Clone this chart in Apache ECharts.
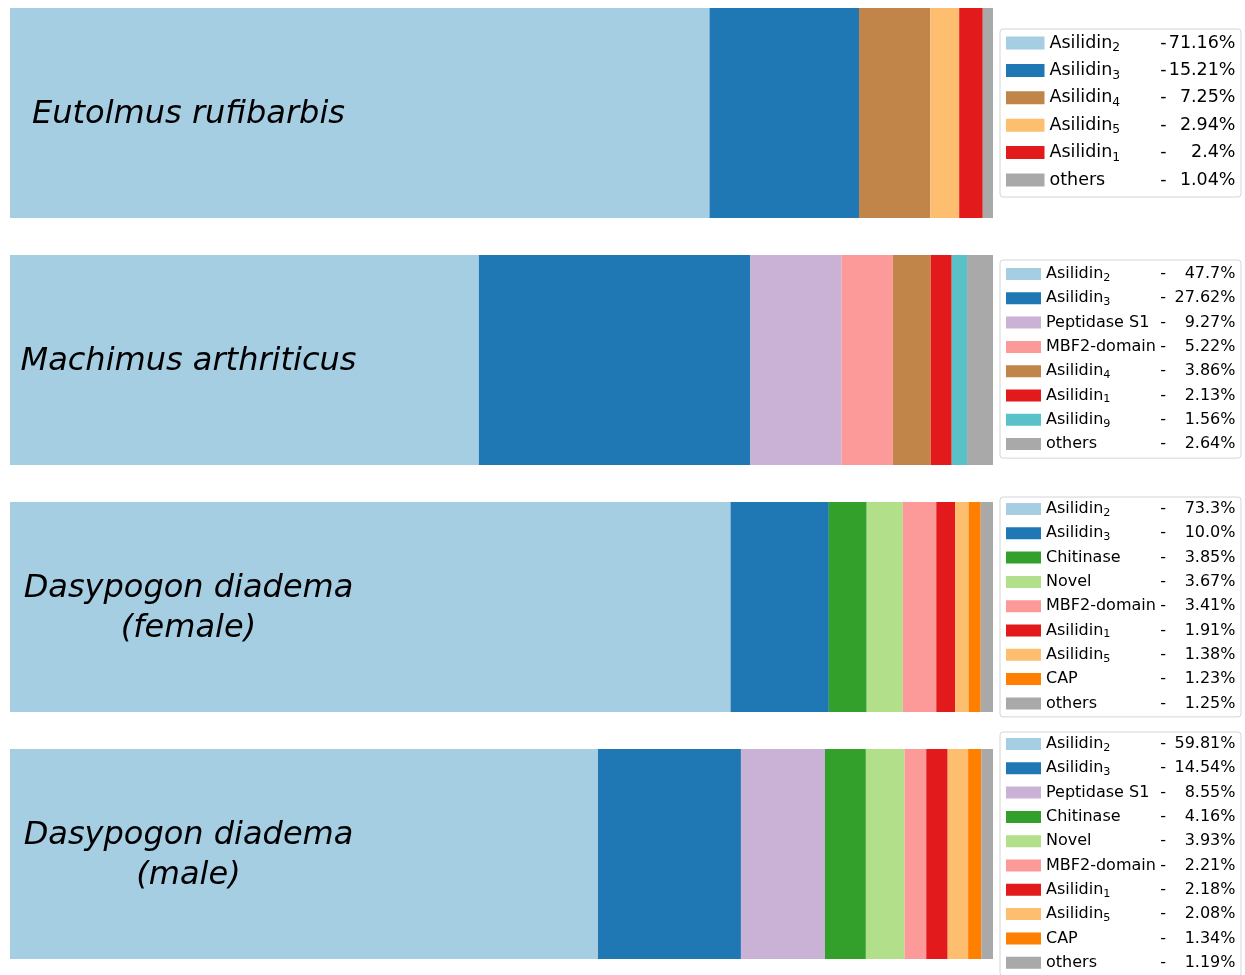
<!DOCTYPE html>
<html>
<head>
<meta charset="utf-8">
<script src="https://cdn.jsdelivr.net/npm/echarts@6/dist/echarts.min.js"></script>
<style>
html,body{margin:0;padding:0;background:#fff;}
#main{width:1245px;height:975px;}
</style>
</head>
<body>
<div id="main"></div>
<script>
// ---- data ----
const species = [
  "Eutolmus rufibarbis",
  "Machimus arthriticus",
  "Dasypogon diadema\n(female)",
  "Dasypogon diadema\n(male)"
];
// "_n" marks a subscript digit
const labels1 = ["Asilidin_2", "Asilidin_3", "Asilidin_4", "Asilidin_5", "Asilidin_1", "others"];
const values1 = [71.16, 15.21, 7.25, 2.94, 2.4, 1.04];
const labels2 = ["Asilidin_2", "Asilidin_3", "Peptidase S1", "MBF2-domain", "Asilidin_4", "Asilidin_1", "Asilidin_9", "others"];
const values2 = [47.7, 27.62, 9.27, 5.22, 3.86, 2.13, 1.56, 2.64];
const labels3 = ["Asilidin_2", "Asilidin_3", "Chitinase", "Novel", "MBF2-domain", "Asilidin_1", "Asilidin_5", "CAP", "others"];
const values3 = [73.3, 10.0, 3.85, 3.67, 3.41, 1.91, 1.38, 1.23, 1.25];
const labels4 = ["Asilidin_2", "Asilidin_3", "Peptidase S1", "Chitinase", "Novel", "MBF2-domain", "Asilidin_1", "Asilidin_5", "CAP", "others"];
const values4 = [59.81, 14.54, 8.55, 4.16, 3.93, 2.21, 2.18, 2.08, 1.34, 1.19];

const colorMap = {
  "Asilidin_2": "#a6cee3",
  "Asilidin_3": "#1f78b4",
  "Asilidin_4": "#c1854a",
  "Asilidin_5": "#fdbf6f",
  "Asilidin_1": "#e31a1c",
  "Asilidin_9": "#5bc1c8",
  "Peptidase S1": "#cab2d6",
  "MBF2-domain": "#fb9a99",
  "Chitinase": "#33a02c",
  "Novel": "#b2df8a",
  "CAP": "#ff7f00",
  "others": "#a9a9a9"
};

const groups = [
  {labels: labels1, values: values1},
  {labels: labels2, values: values2},
  {labels: labels3, values: values3},
  {labels: labels4, values: values4}
];

// ---- layout ----
const gridTops = [8, 255, 502, 749];
const gridH = 210;
const legendTops = [29, 260, 497, 732];

function fmtVal(v) {
  return (Number.isInteger(v) ? v.toFixed(1) : String(v)) + '%';
}

const grids = [], xAxes = [], yAxes = [], series = [], legends = [], graphics = [];
groups.forEach((g, gi) => {
  grids.push({left: 10, width: 983, top: gridTops[gi], height: gridH});
  const total = g.values.reduce((a, b) => a + b, 0);
  xAxes.push({type: 'value', gridIndex: gi, min: 0, max: total, show: false});
  yAxes.push({type: 'category', gridIndex: gi, data: [species[gi]], show: false});
  const names = [];
  g.labels.forEach((lab, li) => {
    const nm = gi + ':' + lab;
    names.push(nm);
    series.push({
      type: 'bar', name: nm, xAxisIndex: gi, yAxisIndex: gi, stack: 's' + gi,
      barCategoryGap: '0%', data: [g.values[li]],
      itemStyle: {color: colorMap[lab]}, silent: true
    });
  });
  const big = gi === 0;
  const fs = big ? 17.5 : 16;
  const lh = big ? 22 : 19;
  const gap = big ? 5.4 : 5.3;
  const dashW = big ? 6.5 : 6;
  const valW = big ? 69 : 69.5;
  const totalW = big ? 186 : 189.5;
  const subFs = Math.round(fs * 0.7 * 10) / 10;
  const subH = lh - 0.838 * fs;
  const ff = 'DejaVu Sans';
  const n = g.labels.length;
  legends.push({
    type: 'plain',
    orient: 'vertical', left: 1000, top: legendTops[gi],
    height: n * lh + (n - 1) * gap + 2,
    data: names, selectedMode: false, icon: 'rect',
    itemWidth: big ? 38.5 : 35, itemHeight: big ? 13 : 12,
    itemGap: gap,
    padding: big ? [3, 5.5, 6, 6] : (gi === 1 ? [4.5, 5.5, 4.5, 6] : [2.5, 5.5, 4, 6]),
    borderColor: '#d4d4d4', borderWidth: 1, borderRadius: 3,
    backgroundColor: '#ffffff',
    textStyle: {
      color: '#000', fontFamily: ff, fontSize: fs, lineHeight: lh, width: totalW,
      rich: {
        n: {fontSize: fs, lineHeight: lh, fontFamily: ff, color: '#000'},
        s: {fontSize: subFs, lineHeight: subH, verticalAlign: 'bottom', fontFamily: ff, color: '#000'},
        d: {width: dashW, align: 'right', fontSize: fs, lineHeight: lh, fontFamily: ff, color: '#000'},
        v: {width: valW, align: 'right', fontSize: fs, lineHeight: lh, fontFamily: ff, color: '#000'}
      }
    },
    formatter: function (name) {
      const lab = name.slice(name.indexOf(':') + 1);
      const idx = g.labels.indexOf(lab);
      const parts = lab.split('_');
      let txt = '{n|' + parts[0] + '}';
      if (parts.length > 1) txt += '{s|' + parts[1] + '}';
      return txt + '{d|-}{v|' + fmtVal(g.values[idx]) + '}';
    }
  });
  graphics.push({
    type: 'text', x: 188.5, y: gridTops[gi] + gridH / 2 + 1.5, z: 100,
    style: {
      text: species[gi], align: 'center', verticalAlign: 'middle',
      fontSize: 32, fontStyle: 'italic', fontFamily: ff,
      lineHeight: 40, fill: '#000'
    }
  });
});

const chart = echarts.init(document.getElementById('main'));
chart.setOption({
  animation: false,
  backgroundColor: '#ffffff',
  grid: grids, xAxis: xAxes, yAxis: yAxes,
  legend: legends, series: series, graphic: graphics,
  tooltip: {show: false}
});
</script>
</body>
</html>
